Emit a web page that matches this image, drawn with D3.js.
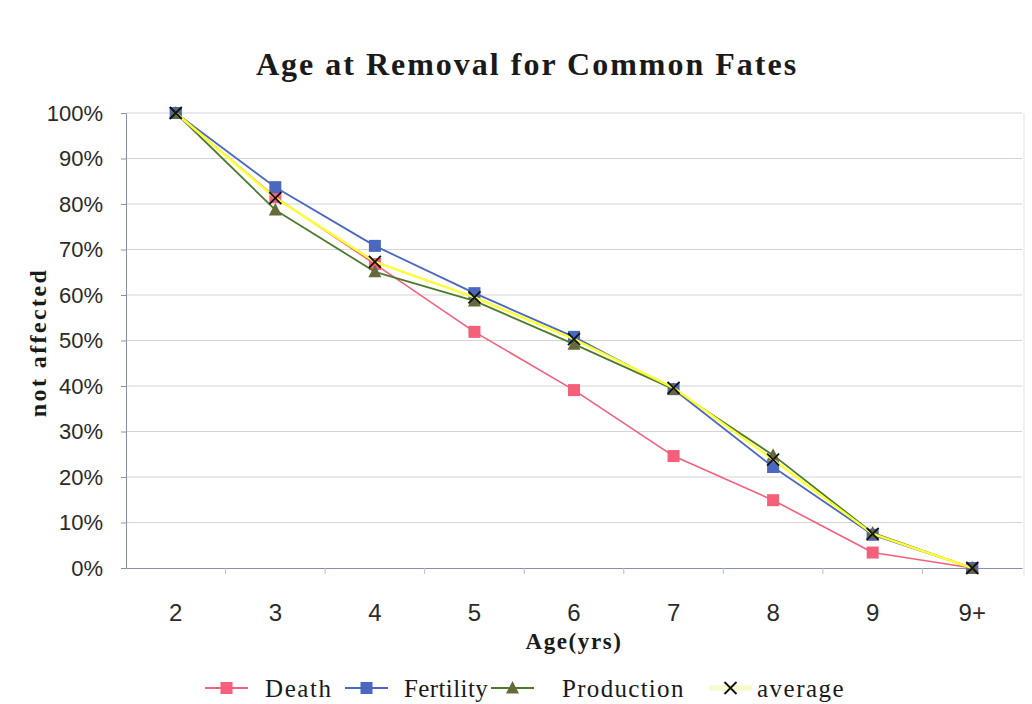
<!DOCTYPE html>
<html>
<head>
<meta charset="utf-8">
<script src="https://cdn.jsdelivr.net/npm/d3@7"></script>
<style>
  html, body { margin: 0; padding: 0; background: #fff; }
  svg { display: block; }
</style>
</head>
<body>
<svg id="chart" width="1032" height="704"></svg>
<script>
// Share of animals not yet removed, by age, for each removal fate
const ages = ["2", "3", "4", "5", "6", "7", "8", "9", "9+"];
const death = [100, 81.5, 66.8, 51.9, 39.1, 24.6, 14.9, 3.4, 0];
const fertility = [100, 83.7, 70.8, 60.4, 50.8, 39.3, 22.2, 7.3, 0];
const production = [100, 78.7, 65.1, 58.7, 49.2, 39.3, 24.8, 7.7, 0];
const average = [100, 81.3, 67.3, 59.5, 50.3, 39.6, 23.8, 7.5, 0];
const yTicks = [0, 10, 20, 30, 40, 50, 60, 70, 80, 90, 100];

const series = [
  { name: "Death", values: death, line: "#F4607A", marker: "square", fill: "#F4607A", width: 1.6 },
  { name: "Fertility", values: fertility, line: "#4A68BE", marker: "square", fill: "#4A68BE", width: 1.8 },
  { name: "Production", values: production, line: "#4E7A2E", marker: "triangle", fill: "#66693A", width: 1.8 },
  { name: "average", values: average, line: "#FFFF33", marker: "x", fill: "#111", width: 2.4 }
];

const svg = d3.select("#chart");
const plot = { left: 126, right: 1022, top: 113, bottom: 568 };

const x = d3.scaleBand().domain(ages).range([plot.left, plot.right]).paddingInner(0).paddingOuter(0);
const y = d3.scaleLinear().domain([0, 100]).range([plot.bottom, plot.top]);
const cx = d => x(d) + x.bandwidth() / 2;

const serif = "Liberation Serif, Times New Roman, serif";
const sans = "Liberation Sans, Arial, sans-serif";

// Title
svg.append("text")
  .attr("x", 527).attr("y", 75)
  .attr("text-anchor", "middle")
  .attr("font-family", serif)
  .attr("font-weight", "bold")
  .attr("font-size", 32)
  .attr("fill", "#1a1a1a")
  .attr("letter-spacing", 2)
  .text("Age at Removal for Common Fates");

// Horizontal gridlines
svg.append("g")
  .selectAll("line")
  .data(yTicks.filter(t => t > 0))
  .join("line")
  .attr("x1", plot.left).attr("x2", plot.right)
  .attr("y1", d => y(d)).attr("y2", d => y(d))
  .attr("stroke", "#d4d4dc").attr("stroke-width", 1);

// Right border of plot area
svg.append("line")
  .attr("x1", plot.right + 2).attr("x2", plot.right + 2)
  .attr("y1", plot.top).attr("y2", plot.bottom + 8)
  .attr("stroke", "#e2e2ea").attr("stroke-width", 1);

// Y axis
const yAxis = d3.axisLeft(y)
  .tickValues(yTicks)
  .tickSize(5)
  .tickPadding(18)
  .tickFormat(d => d + "%");
const gy = svg.append("g").attr("transform", `translate(${plot.left},0)`).call(yAxis);
gy.select(".domain").attr("stroke", "#8890a8");
gy.selectAll(".tick line").attr("stroke", "#8890a8");
gy.selectAll(".tick text")
  .attr("font-family", sans)
  .attr("font-size", 22)
  .attr("fill", "#2a2a2a");

// X axis: ticks between categories
const xAxis = d3.axisBottom(x).tickSize(0).tickPadding(0);
const gx = svg.append("g").attr("transform", `translate(0,${plot.bottom})`).call(xAxis);
gx.select(".domain").attr("stroke", "#8890a8");
gx.selectAll(".tick text")
  .attr("dy", null)
  .attr("y", 53)
  .attr("font-family", sans)
  .attr("font-size", 24)
  .attr("fill", "#2a2a2a");
gx.append("g")
  .selectAll("line")
  .data(ages.slice(1))
  .join("line")
  .attr("x1", d => x(d)).attr("x2", d => x(d))
  .attr("y1", 0).attr("y2", 6)
  .attr("stroke", "#b8bccc");

// Axis titles
svg.append("text")
  .attr("transform", `translate(46,${(plot.top + plot.bottom) / 2 + 2}) rotate(-90)`)
  .attr("text-anchor", "middle")
  .attr("font-family", serif)
  .attr("font-weight", "bold")
  .attr("font-size", 24)
  .attr("letter-spacing", 2.4)
  .attr("fill", "#1a1a1a")
  .text("not affected");

svg.append("text")
  .attr("x", 574).attr("y", 649)
  .attr("text-anchor", "middle")
  .attr("font-family", serif)
  .attr("font-weight", "bold")
  .attr("font-size", 23)
  .attr("letter-spacing", 1.6)
  .attr("fill", "#1a1a1a")
  .text("Age(yrs)");

// Marker drawing helper
function drawMarker(g, s, px, py) {
  if (s.marker === "square") {
    g.append("rect")
      .attr("x", px - 6).attr("y", py - 6)
      .attr("width", 12).attr("height", 12)
      .attr("fill", s.fill);
  } else if (s.marker === "triangle") {
    g.append("path")
      .attr("d", `M${px},${py - 7}L${px + 6.5},${py + 5.5}L${px - 6.5},${py + 5.5}Z`)
      .attr("fill", s.fill);
  } else {
    g.append("path")
      .attr("d", `M${px - 6},${py - 6}L${px + 6},${py + 6}M${px + 6},${py - 6}L${px - 6},${py + 6}`)
      .attr("stroke", s.fill).attr("stroke-width", 1.8).attr("fill", "none");
  }
}

// Series lines and markers
const line = d3.line().x((d, i) => cx(ages[i])).y(d => y(d));
series.forEach(s => {
  const g = svg.append("g");
  g.append("path")
    .datum(s.values)
    .attr("d", line)
    .attr("fill", "none")
    .attr("stroke", s.line)
    .attr("stroke-width", s.width)
    .attr("stroke-linejoin", "round");
  s.values.forEach((v, i) => drawMarker(g, s, cx(ages[i]), y(v)));
});

// Legend
const legendItems = [
  { s: series[0], lx: 205, tx: 265, ls: 1.6 },
  { s: series[1], lx: 345, tx: 404, ls: 0.4 },
  { s: series[2], lx: 491, tx: 562, ls: 1.3 },
  { s: series[3], lx: 709, tx: 757, ls: 1.5 }
];
const ly = 688;
legendItems.forEach(({ s, lx, tx, ls }) => {
  const g = svg.append("g");
  const len = 43;
  g.append("line")
    .attr("x1", lx).attr("x2", lx + len)
    .attr("y1", ly).attr("y2", ly)
    .attr("stroke", s.marker === "x" ? "#f6f9c8" : s.line)
    .attr("stroke-width", s.marker === "x" ? 5 : 1.8);
  drawMarker(g, s, lx + len / 2, ly);
  g.append("text")
    .attr("x", tx).attr("y", ly + 9)
    .attr("font-family", serif)
    .attr("font-size", 25)
    .attr("letter-spacing", ls)
    .attr("fill", "#1a1a1a")
    .text(s.name);
});
</script>
</body>
</html>
